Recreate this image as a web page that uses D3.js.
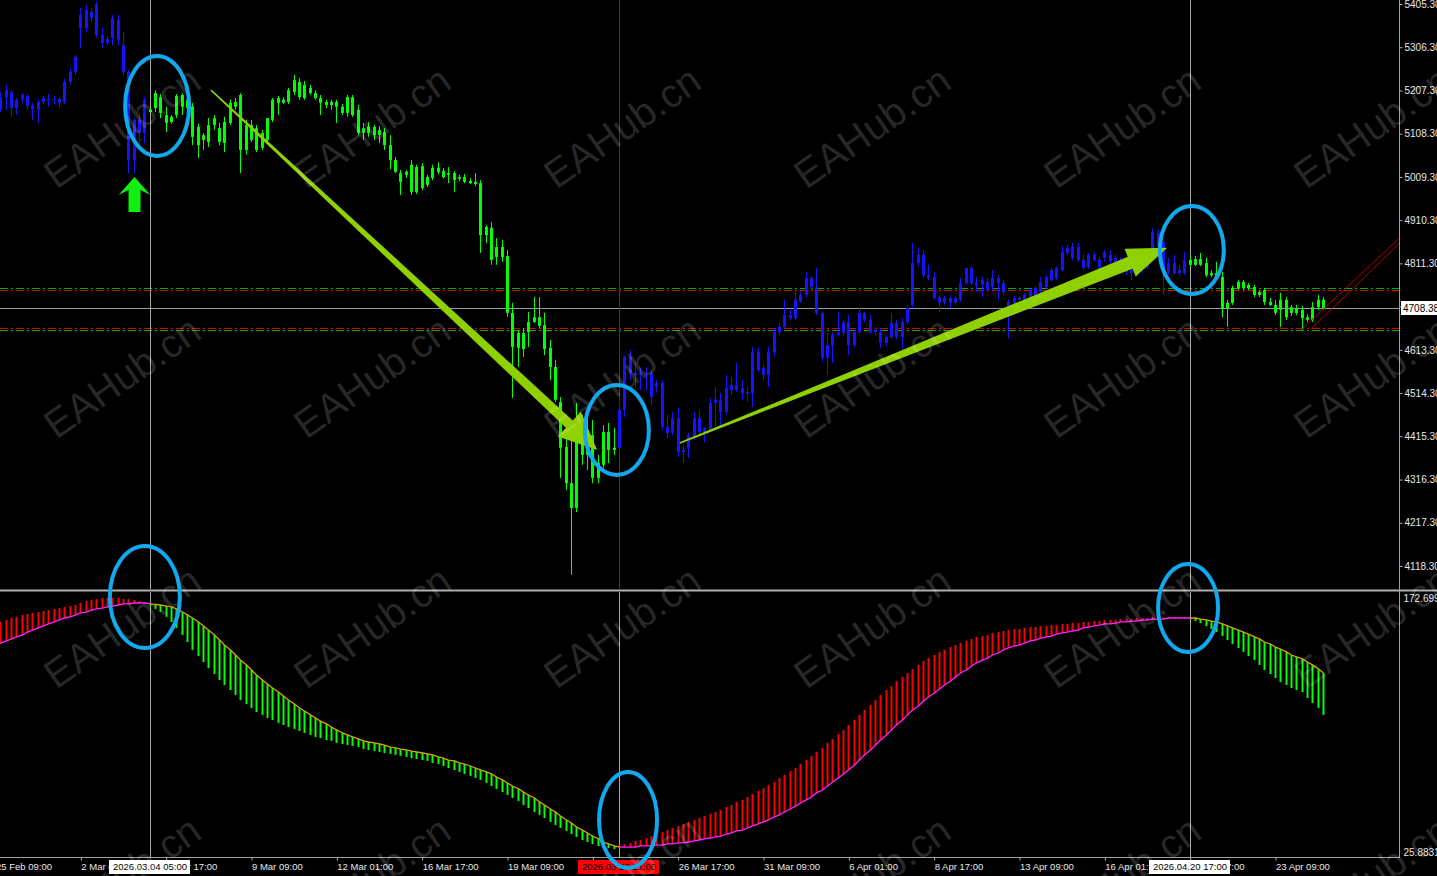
<!DOCTYPE html>
<html><head><meta charset="utf-8">
<script src="https://cdn.jsdelivr.net/npm/d3@7"></script>
<style>
html,body{margin:0;padding:0;background:#000;overflow:hidden}
svg{display:block}
text{font-family:"Liberation Sans",Arial,sans-serif}
</style></head><body>
<svg id="chart" width="1437" height="876"></svg>
<script>
// ---- data (H4 bars, 25 Feb 09:00 .. 24 Apr 21:00) ----
var opens = [5186,5163,5192,5204,5167,5186,5195,5172,5163,5181,
5188,5186,5188,5181,5227,5250,5350,5350,5387,5405,
5334,5316,5327,5369,5311,5250,5048,5140,5110,5158,
5167,5192,5151,5135,5151,5170,5186,5170,5124,5094,
5089,5128,5121,5087,5133,5170,5197,5071,5128,5121,
5076,5094,5140,5179,5186,5181,5204,5227,5190,5213,
5201,5190,5181,5174,5181,5170,5156,5192,5163,5121,
5110,5124,5105,5112,5082,5048,5018,5014,5037,4975,
5034,4991,5007,5030,5023,5014,5018,5005,5009,5000,
4998,4995,4876,4893,4826,4849,4828,4698,4618,4652,
4654,4677,4688,4670,4618,4574,4494,4391,4308,4251,
4414,4373,4418,4320,4350,4425,4384,4389,4476,4597,
4556,4560,4558,4560,4528,4537,4437,4423,4457,4379,
4389,4414,4457,4425,4430,4492,4499,4471,4521,4533,
4526,4517,4514,4608,4572,4556,4608,4654,4666,4693,
4686,4723,4739,4778,4757,4698,4595,4624,4647,4652,
4677,4624,4654,4698,4682,4654,4654,4629,4643,4675,
4643,4677,4716,4812,4831,4784,4780,4734,4721,4732,
4721,4728,4766,4801,4766,4762,4769,4757,4778,4766,
4723,4721,4728,4723,4734,4739,4746,4757,4773,4778,
4796,4835,4824,4849,4819,4803,4831,4819,4824,4831,
4815,4819,4803,4796,4792,4805,4803,4835,4881,4860,
4792,4812,4789,4789,4819,4808,4821,4812,4784,4789,
4780,4709,4721,4755,4755,4762,4757,4739,4750,4723,
4716,4705,4728,4698,4709,4705,4688,4682,4711,4728];
var highs = [5208,5204,5220,5208,5190,5201,5199,5179,5186,5195,
5199,5195,5192,5234,5259,5289,5396,5403,5396,5412,
5350,5332,5380,5380,5341,5254,5144,5151,5192,5167,
5208,5199,5170,5151,5199,5201,5197,5179,5131,5110,
5144,5151,5133,5147,5186,5190,5201,5140,5140,5128,
5117,5144,5190,5195,5192,5213,5243,5236,5229,5220,
5208,5197,5186,5186,5186,5176,5197,5197,5174,5133,
5135,5128,5126,5121,5105,5055,5025,5025,5048,5037,
5041,5014,5037,5043,5030,5032,5023,5014,5016,5007,
5018,5002,4899,4906,4869,4865,4842,4721,4659,4663,
4700,4734,4734,4698,4636,4590,4505,4430,4423,4492,
4464,4457,4453,4373,4441,4446,4434,4499,4601,4613,
4586,4572,4574,4567,4544,4544,4464,4471,4480,4395,
4423,4471,4476,4437,4503,4528,4514,4556,4551,4583,
4544,4528,4620,4618,4579,4620,4663,4675,4728,4705,
4746,4746,4792,4782,4801,4700,4652,4654,4700,4682,
4693,4659,4709,4700,4693,4666,4663,4647,4698,4682,
4686,4716,4858,4847,4842,4808,4792,4739,4737,4739,
4737,4778,4801,4805,4780,4780,4778,4796,4785,4773,
4728,4737,4737,4744,4755,4759,4780,4785,4801,4805,
4851,4854,4858,4858,4831,4835,4837,4826,4842,4842,
4831,4826,4815,4808,4815,4819,4842,4892,4888,4865,
4824,4831,4808,4837,4826,4828,4835,4824,4796,4815,
4792,4728,4760,4773,4773,4766,4762,4750,4755,4732,
4728,4744,4734,4716,4716,4714,4695,4723,4739,4734];
var lows = [5167,5158,5163,5147,5151,5179,5163,5140,5133,5176,
5170,5176,5167,5176,5222,5243,5305,5341,5364,5328,
5305,5311,5311,5311,5243,5018,5018,5071,5087,5156,
5158,5144,5112,5131,5144,5151,5158,5082,5053,5071,
5078,5117,5082,5066,5128,5163,5018,5060,5089,5066,
5071,5089,5135,5151,5176,5176,5197,5186,5186,5197,
5186,5151,5167,5163,5133,5151,5147,5147,5105,5094,
5101,5094,5087,5071,5027,5018,4968,5007,4968,4970,
4979,4986,5002,5016,5005,4995,4975,5000,4995,4993,
4988,4835,4858,4808,4808,4815,4689,4503,4574,4597,
4620,4675,4663,4601,4544,4494,4320,4292,4098,4242,
4350,4338,4308,4308,4343,4354,4373,4379,4460,4544,
4526,4521,4521,4487,4515,4430,4411,4418,4368,4354,
4366,4407,4418,4402,4425,4437,4434,4466,4510,4517,
4499,4494,4482,4563,4544,4528,4597,4647,4663,4682,
4682,4721,4734,4750,4693,4586,4556,4583,4643,4645,
4601,4620,4650,4677,4650,4647,4618,4624,4638,4638,
4608,4672,4711,4805,4780,4773,4728,4700,4716,4709,
4716,4723,4762,4762,4746,4734,4746,4750,4728,4739,
4640,4709,4721,4718,4730,4734,4741,4753,4769,4773,
4792,4831,4819,4815,4796,4798,4815,4785,4815,4810,
4810,4796,4785,4773,4782,4789,4798,4831,4842,4739,
4785,4787,4782,4785,4805,4805,4805,4780,4780,4773,
4688,4666,4716,4750,4750,4750,4734,4734,4716,4714,
4693,4666,4682,4691,4693,4659,4677,4677,4705,4705];
var closes = [5197,5192,5208,5167,5186,5197,5172,5165,5181,5190,
5186,5188,5179,5227,5250,5284,5380,5392,5373,5334,
5316,5325,5373,5323,5250,5048,5140,5110,5186,5163,
5201,5156,5133,5147,5195,5197,5167,5101,5082,5105,
5128,5144,5089,5135,5179,5181,5071,5128,5094,5071,
5110,5144,5186,5190,5179,5208,5231,5192,5220,5201,
5190,5179,5174,5181,5170,5156,5192,5151,5110,5110,
5124,5105,5117,5082,5048,5021,4998,5021,4975,5032,
4984,5009,5030,5021,5009,5018,5002,5009,4998,4995,
4993,4876,4895,4819,4849,4826,4698,4620,4652,4615,
4677,4688,4668,4615,4574,4499,4389,4308,4251,4414,
4373,4430,4320,4354,4425,4384,4389,4476,4597,4560,
4560,4558,4556,4505,4537,4437,4423,4457,4379,4384,
4418,4457,4425,4434,4492,4499,4471,4526,4533,4521,
4514,4514,4608,4567,4556,4608,4654,4666,4693,4686,
4728,4739,4778,4757,4698,4595,4624,4647,4652,4677,
4624,4654,4698,4682,4654,4659,4629,4643,4675,4643,
4677,4709,4812,4831,4784,4778,4732,4721,4732,4721,
4732,4766,4801,4766,4762,4773,4750,4778,4766,4746,
4709,4732,4732,4739,4750,4755,4769,4780,4796,4801,
4837,4847,4849,4819,4801,4831,4819,4801,4837,4815,
4824,4803,4792,4789,4808,4801,4835,4883,4849,4789,
4812,4789,4796,4819,4808,4821,4808,4784,4789,4782,
4709,4721,4755,4769,4769,4755,4739,4746,4723,4716,
4698,4728,4688,4711,4698,4686,4682,4711,4728,4708.38];

// trend indicator: slow line and fast line
var slowLine = [143.3,144.4,145.6,146.7,147.8,148.9,150.5,151.6,152.8,153.9,
155.0,156.1,157.2,158.3,158.9,160.0,161.1,161.6,162.7,163.3,
163.8,164.4,164.9,165.5,166.1,166.1,166.6,166.6,166.6,166.1,
165.8,165.5,164.9,164.4,163.3,161.6,160.0,158.3,156.1,153.9,
151.6,148.9,146.1,143.3,140.6,137.8,135.0,132.3,129.5,126.7,
123.9,121.7,119.5,117.3,115.1,112.9,110.6,108.4,106.8,104.6,
102.9,101.2,99.6,97.9,96.3,94.6,93.5,92.4,91.3,90.2,
89.6,89.1,88.5,87.9,86.8,86.3,85.7,85.2,84.6,84.1,
83.5,83.0,82.4,81.3,80.7,79.6,79.1,78.0,77.4,76.3,
75.2,74.1,73.0,71.9,70.2,68.6,66.9,65.2,63.6,61.9,
60.2,58.6,56.4,54.7,52.5,50.8,48.6,46.4,44.7,42.5,
40.8,39.2,37.5,35.9,34.2,33.1,32.0,31.4,31.4,31.4,
31.4,32.0,32.0,32.0,32.5,32.5,33.1,33.1,33.7,33.7,
34.2,34.8,35.3,35.9,36.4,37.0,37.5,38.6,39.2,40.3,
40.8,42.0,43.1,44.2,45.3,46.4,48.1,49.2,50.8,52.5,
54.1,55.8,57.5,59.1,61.4,63.0,65.2,67.4,69.7,71.9,
74.1,76.9,79.6,82.4,85.2,87.9,90.7,93.5,96.3,99.0,
101.8,104.6,107.3,109.5,112.3,114.5,116.7,118.9,121.2,123.4,
125.6,127.8,129.5,131.7,133.4,135.0,136.1,137.8,138.9,140.6,
141.7,142.8,143.3,144.4,145.6,146.1,147.2,147.8,148.3,149.4,
150.0,150.5,151.1,151.6,152.8,153.3,153.9,154.4,155.0,155.0,
155.5,156.1,156.1,156.6,156.6,157.2,157.2,157.7,157.7,157.7,
158.3,158.3,158.3,158.3,158.3,158.3,157.7,157.2,156.6,156.1,
155.0,153.9,152.8,151.6,150.5,149.4,147.8,146.7,145.0,143.9,
142.2,141.1,139.5,137.8,136.7,135.6,133.9,132.3,130.0,127.8];
var fastLine = [155.0,156.1,157.2,158.3,158.9,160.0,160.5,161.1,161.6,162.2,
162.7,163.3,163.8,164.4,164.9,165.5,166.6,167.7,168.3,168.8,
169.4,169.4,169.4,169.4,168.8,168.8,168.3,167.7,167.2,164.9,
163.3,161.6,158.9,156.1,152.8,148.9,145.0,140.6,137.2,133.9,
130.6,127.3,123.9,121.2,118.4,115.6,112.9,110.6,108.4,106.2,
104.6,102.9,101.8,100.1,99.0,97.9,96.8,95.7,94.6,93.5,
92.4,91.8,90.7,90.2,89.1,88.5,87.9,87.4,86.8,85.7,
85.2,84.6,84.1,83.5,83.0,82.4,81.9,81.3,80.7,80.2,
79.6,79.1,78.0,77.4,76.3,75.2,74.1,73.0,71.9,70.8,
69.7,68.6,66.9,65.2,63.6,61.9,60.2,58.6,56.9,54.7,
53.0,50.8,49.2,47.5,45.3,43.6,42.0,40.3,38.6,37.0,
35.3,34.2,33.1,32.0,31.4,30.9,30.3,32.5,33.1,33.7,
34.8,35.3,36.4,37.5,38.6,39.7,40.8,42.0,43.1,44.2,
45.3,46.4,47.5,48.6,49.7,50.8,51.9,53.6,54.7,56.4,
57.5,59.1,60.8,62.5,64.1,65.8,67.4,69.7,71.3,73.5,
75.2,77.4,79.6,81.9,84.1,86.3,89.1,91.3,94.0,96.3,
99.0,101.8,104.6,107.3,110.1,112.9,115.6,118.4,120.6,123.4,
125.6,127.8,130.0,132.3,134.5,136.1,137.8,139.5,140.6,142.2,
143.3,144.4,145.6,146.7,147.8,148.3,148.9,150.0,150.5,151.1,
151.6,152.2,152.2,152.8,153.3,153.3,153.9,153.9,154.4,154.4,
155.0,155.0,155.5,155.5,156.1,156.1,156.6,156.6,157.2,157.2,
157.2,157.7,157.7,157.7,158.3,158.3,158.3,158.9,158.9,158.9,
158.9,158.9,158.9,158.9,157.7,156.6,155.5,153.9,152.2,150.5,
148.3,146.1,143.9,141.7,139.5,137.2,135.0,132.3,129.5,127.3,
125.0,122.8,121.2,119.5,118.4,117.3,114.0,111.2,108.4,104.6];

var timeTickIdx = [0,16,32,48,64,80,96,112,128,144,160,176,192,208,224,240];
var timeTickLabels = ["25 Feb 09:00","2 Mar 01:00","4 Mar 17:00","9 Mar 09:00","12 Mar 01:00","16 Mar 17:00",
  "19 Mar 09:00","23 Mar 01:00","26 Mar 17:00","31 Mar 09:00","6 Apr 01:00","8 Apr 17:00",
  "13 Apr 09:00","16 Apr 01:00","20 Apr 17:00","23 Apr 09:00"];
var priceTicks = [5405.3,5306.3,5207.3,5108.3,5009.3,4910.3,4811.3,4712.3,4613.3,4514.3,4415.3,4316.3,4217.3,4118.3];
var indMax = 172.699, indMin = 25.8831;
var bidPrice = 4708.38;
var levelPrices = [4754.3, 4750.4, 4664.0, 4658.8];

var vLineIdx = [29, 117, 224];
var vLineLabels = ["2026.03.04 05:00","2026.03.23 21:00","2026.04.20 17:00"];

var arrowFromIdx = [40.5, 128.4], arrowFromPrice = [5208, 4400];
var arrowToIdx = [112.9, 219.8], arrowToPrice = [4384, 4847];
var mainRingIdx = [30.4, 116.6, 224.4], mainRingPrice = [5172, 4430, 4842];
var indRingIdx = [28.1, 118.7, 223.7], indRingValue = [169.9, 46.4, 163.8];
var channelFromIdx = [244.9, 246.6], channelFromPrice = [4659, 4659];
var channelToIdx = [263.4, 263.4], channelToPrice = [4870, 4858];
var signalIdx = 26;

// ---- layout ----
var W = 1437, H = 876, plotRight = 1399;
var mainBottom = 589, indTop = 592, indBottom = 857;

var svg = d3.select('#chart');
svg.append('rect').attr('width', W).attr('height', H).attr('fill', '#000');

var x = d3.scaleLinear().domain([0, 240]).range([-5, 1275]);
var yMain = d3.scaleLinear().domain([4118.3, 5405.3]).range([566, 4]);
var yInd = d3.scaleLinear().domain([indMin, indMax]).range([indBottom, indTop]);

var bars = closes.map(function(c, i){
  return {i: i, o: opens[i], h: highs[i], l: lows[i], c: c,
          slow: slowLine[i], fast: fastLine[i], up: fastLine[i] >= slowLine[i]};
});
function px(i){ return Math.round(x(i)); }

var defs = svg.append('defs');
defs.append('clipPath').attr('id', 'clipMain').append('rect')
  .attr('x', 0).attr('y', 0).attr('width', plotRight).attr('height', mainBottom);
defs.append('clipPath').attr('id', 'clipInd').append('rect')
  .attr('x', 0).attr('y', indTop).attr('width', plotRight).attr('height', indBottom - indTop);

var gMain = svg.append('g').attr('clip-path', 'url(#clipMain)');
var gInd = svg.append('g').attr('clip-path', 'url(#clipInd)');

// level lines (dash-dot)
var levelColors = ['#00b000', '#e00000', '#e00000', '#00b000'];
gMain.selectAll('line.level').data(levelPrices).enter().append('line')
  .attr('class', 'level')
  .attr('x1', 0).attr('x2', plotRight)
  .attr('y1', function(d){ return Math.round(yMain(d)) + 0.5; })
  .attr('y2', function(d){ return Math.round(yMain(d)) + 0.5; })
  .attr('stroke', function(d, k){ return levelColors[k]; })
  .attr('stroke-width', 1).attr('stroke-dasharray', '8,3,2,3');

// bid line
gMain.append('line').attr('x1', 0).attr('x2', plotRight)
  .attr('y1', Math.round(yMain(bidPrice)) + 0.5).attr('y2', Math.round(yMain(bidPrice)) + 0.5)
  .attr('stroke', '#9a9aa4').attr('stroke-width', 1);

// vertical lines
var vMainColors = ['#a8a8a8', '#c80000', '#a8a8a8'];
vLineIdx.forEach(function(i, k){
  var vx = px(i) + 0.5;
  gMain.append('line').attr('x1', vx).attr('x2', vx).attr('y1', 0).attr('y2', mainBottom)
    .attr('stroke', vMainColors[k]).attr('stroke-width', 1);
  gInd.append('line').attr('x1', vx).attr('x2', vx).attr('y1', indTop).attr('y2', indBottom)
    .attr('stroke', '#a8a8a8').attr('stroke-width', 1);
});

// candles
var candleColor = function(d){ return d.up ? '#1414ff' : '#00ff00'; };
var cg = gMain.selectAll('g.candle').data(bars).enter().append('g').attr('class', 'candle');
cg.append('line')
  .attr('x1', function(d){ return px(d.i) + 0.5; })
  .attr('x2', function(d){ return px(d.i) + 0.5; })
  .attr('y1', function(d){ return yMain(d.h); })
  .attr('y2', function(d){ return yMain(d.l); })
  .attr('stroke', candleColor).attr('stroke-width', 1);
cg.append('rect')
  .attr('x', function(d){ return px(d.i) - 1; })
  .attr('width', 3)
  .attr('y', function(d){ return yMain(Math.max(d.o, d.c)); })
  .attr('height', function(d){ return Math.max(1.5, Math.abs(yMain(d.o) - yMain(d.c))); })
  .attr('fill', candleColor);

// indicator histogram
gInd.selectAll('line.hist').data(bars).enter().append('line')
  .attr('class', 'hist')
  .attr('x1', function(d){ return px(d.i) + 0.5; })
  .attr('x2', function(d){ return px(d.i) + 0.5; })
  .attr('y1', function(d){ return yInd(d.slow); })
  .attr('y2', function(d){ return yInd(d.fast); })
  .attr('stroke', function(d){ return d.up ? '#ff0000' : '#00ff00'; })
  .attr('stroke-width', 2);

var slowPath = d3.line().x(function(d){ return px(d.i) + 0.5; }).y(function(d){ return yInd(d.slow); });
gInd.append('path')
  .attr('d', slowPath.defined(function(d){ return d.up || (d.i > 0 && bars[d.i - 1].up); })(bars))
  .attr('fill', 'none').attr('stroke', '#ff20ff').attr('stroke-width', 1.3);
gInd.append('path')
  .attr('d', slowPath.defined(function(d){ return !d.up || (d.i > 0 && !bars[d.i - 1].up); })(bars))
  .attr('fill', 'none').attr('stroke', '#d6a800').attr('stroke-width', 1.3);

// drawn objects: arrows
function taperArrow(x0, y0, x1, y1, w0, w1, headLen, headHalf){
  var dx = x1 - x0, dy = y1 - y0, len = Math.hypot(dx, dy);
  var ux = dx / len, uy = dy / len, nx = -uy, ny = ux;
  var bx = x1 - ux * headLen, by = y1 - uy * headLen;
  return [[x0 + nx*w0/2, y0 + ny*w0/2], [bx + nx*w1/2, by + ny*w1/2], [bx + nx*headHalf, by + ny*headHalf],
          [x1, y1], [bx - nx*headHalf, by - ny*headHalf], [bx - nx*w1/2, by - ny*w1/2], [x0 - nx*w0/2, y0 - ny*w0/2]];
}
var arrowWidths = [[1.5, 10, 38, 17], [1.5, 13, 40, 15]];
arrowFromIdx.forEach(function(i0, k){
  var s = arrowWidths[k];
  var pts = taperArrow(x(i0), yMain(arrowFromPrice[k]), x(arrowToIdx[k]), yMain(arrowToPrice[k]), s[0], s[1], s[2], s[3]);
  gMain.append('path').attr('d', 'M' + pts.join('L') + 'Z').attr('fill', '#8fd000');
});

// trend channel
channelFromIdx.forEach(function(i0, k){
  gMain.append('line')
    .attr('x1', x(i0)).attr('y1', yMain(channelFromPrice[k]))
    .attr('x2', x(channelToIdx[k])).attr('y2', yMain(channelToPrice[k]))
    .attr('stroke', '#b00000').attr('stroke-width', 1);
});

// buy signal arrow
(function(){
  var cx = px(signalIdx) + 0.5, ty = yMain(lows[signalIdx]) + 4;
  var pts = [[cx, ty], [cx + 16, ty + 18], [cx + 6, ty + 13], [cx + 6, ty + 35],
             [cx - 6, ty + 35], [cx - 6, ty + 13], [cx - 16, ty + 18]];
  gMain.append('path').attr('d', 'M' + pts.join('L') + 'Z').attr('fill', '#10f010');
})();

// separators & axes
svg.append('line').attr('x1', 0).attr('x2', W).attr('y1', 590.5).attr('y2', 590.5)
  .attr('stroke', '#b0b0b0').attr('stroke-width', 2);
svg.append('line').attr('x1', plotRight + 0.5).attr('x2', plotRight + 0.5).attr('y1', 0).attr('y2', indBottom + 1)
  .attr('stroke', '#a0a0a0');
svg.append('line').attr('x1', 0).attr('x2', plotRight + 1).attr('y1', indBottom + 0.5).attr('y2', indBottom + 0.5)
  .attr('stroke', '#a0a0a0');

var yAxis = d3.axisRight(yMain).tickValues(priceTicks).tickFormat(d3.format('.2f')).tickSize(3).tickPadding(2);
var gy = svg.append('g').attr('transform', 'translate(' + (plotRight + 0.5) + ',0)').call(yAxis);
gy.select('.domain').remove();
gy.selectAll('line').attr('stroke', '#b0b0b0');
gy.selectAll('text').attr('fill', '#e8e8e8').attr('font-size', '10px')
  .attr('font-family', '"Liberation Sans",Arial,sans-serif');

// level markers on axis
levelPrices.forEach(function(p, k){
  if (k % 3 === 0 || k === 1) {
    svg.append('line').attr('x1', plotRight - 6).attr('x2', plotRight)
      .attr('y1', Math.round(yMain(p)) + 0.5).attr('y2', Math.round(yMain(p)) + 0.5)
      .attr('stroke', levelColors[k]);
  }
});

// bid label
svg.append('rect').attr('x', plotRight + 2).attr('y', Math.round(yMain(bidPrice)) - 7)
  .attr('width', 40).attr('height', 14).attr('fill', '#ffffff');
svg.append('text').attr('x', plotRight + 4).attr('y', yMain(bidPrice)).attr('dy', '0.35em')
  .attr('font-size', '10px').attr('fill', '#000').text(d3.format('.2f')(bidPrice));

// indicator scale labels
var yIndAxis = d3.axisRight(yInd).tickValues([indMax, indMin]).tickSize(0).tickPadding(4)
  .tickFormat(function(d){ return d === indMax ? '172.699' : '25.8831'; });
var gyi = svg.append('g').attr('transform', 'translate(' + (plotRight + 0.5) + ',0)').call(yIndAxis);
gyi.select('.domain').remove();
gyi.selectAll('text').attr('fill', '#e8e8e8').attr('font-size', '10px')
  .attr('font-family', '"Liberation Sans",Arial,sans-serif')
  .attr('transform', function(d){ return 'translate(0,' + (d === indMax ? 6 : -5) + ')'; });

// time axis
var xAxis = d3.axisBottom(x).tickValues(timeTickIdx).tickSize(3).tickPadding(3)
  .tickFormat(function(d, k){ return timeTickLabels[k]; });
var gx = svg.append('g').attr('transform', 'translate(0.5,' + (indBottom + 0.5) + ')').call(xAxis);
gx.select('.domain').remove();
gx.selectAll('line').attr('stroke', '#b0b0b0');
gx.selectAll('text').attr('fill', '#e8e8e8').attr('font-size', '9.5px')
  .attr('font-family', '"Liberation Sans",Arial,sans-serif')
  .attr('text-anchor', 'start').attr('x', 0);

// vertical line labels
var vBoxFill = ['#ffffff', '#ff0000', '#ffffff'];
vLineIdx.forEach(function(i, k){
  var cx = px(i);
  svg.append('rect').attr('x', cx - 41).attr('y', 860).attr('width', 81).attr('height', 14).attr('fill', vBoxFill[k]);
  svg.append('text').attr('x', cx).attr('y', 867).attr('dy', '0.35em').attr('text-anchor', 'middle')
    .attr('font-size', '9.5px').attr('fill', '#000').text(vLineLabels[k]);
});

// watermark
var wm = svg.append('g').attr('pointer-events', 'none');
d3.range(4).forEach(function(r){
  d3.range(6).forEach(function(c){
    wm.append('text')
      .attr('transform', 'translate(' + (122 + c * 250) + ',' + (127 + r * 250) + ') rotate(-35)')
      .attr('text-anchor', 'middle').attr('dy', '0.35em')
      .attr('font-size', '40px').attr('fill', '#ffffff').attr('fill-opacity', 0.16)
      .text('EAHub.cn');
  });
});

// annotation rings
var ringSizes = [[32, 50], [32, 45], [32, 44]];
var indRingSizes = [[35, 51], [29, 48], [30, 44]];
mainRingIdx.forEach(function(i, k){
  svg.append('ellipse').attr('cx', x(i)).attr('cy', yMain(mainRingPrice[k]))
    .attr('rx', ringSizes[k][0]).attr('ry', ringSizes[k][1])
    .attr('fill', 'none').attr('stroke', '#12a8ee').attr('stroke-width', 4);
});
indRingIdx.forEach(function(i, k){
  svg.append('ellipse').attr('cx', x(i)).attr('cy', yInd(indRingValue[k]))
    .attr('rx', indRingSizes[k][0]).attr('ry', indRingSizes[k][1])
    .attr('fill', 'none').attr('stroke', '#12a8ee').attr('stroke-width', 4);
});
</script>
</body></html>
